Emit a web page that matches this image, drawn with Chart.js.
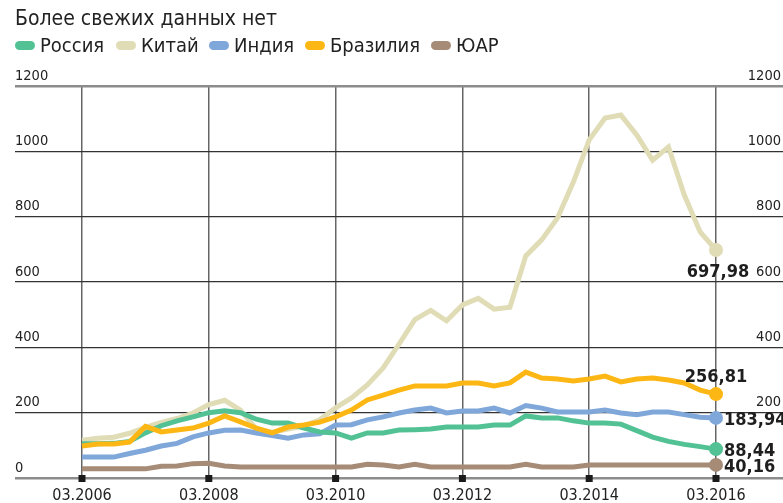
<!DOCTYPE html>
<html>
<head>
<meta charset="utf-8">
<script src="https://cdn.jsdelivr.net/npm/chart.js@4"></script>
<style>
  body { margin: 0; background: #fff; }
  #wrap { position: relative; width: 783px; height: 503px; font-family: 'DejaVu Sans Condensed', 'Liberation Sans Narrow', sans-serif; color: #222; }
  #title { position: absolute; left: 15px; top: 6px; font-size: 21px; white-space: nowrap; }
  .item { position: absolute; top: 33px; font-size: 20px; white-space: nowrap; display: flex; align-items: center; }
  .item span.mark { display: inline-block; width: 20px; height: 9px; border-radius: 5px; margin-right: 5px; }
  canvas { position: absolute; left: 0; top: 0; }
</style>
</head>
<body>
<div id="wrap">
  <canvas id="chart" width="783" height="503"></canvas>
  <div id="title">Более свежих данных нет</div>
  <div id="legend"></div>
</div>
<script>
// quarters, 03.2006 .. 03.2016
const quarters = [
  '03.2006', '06.2006', '09.2006', '12.2006',
  '03.2007', '06.2007', '09.2007', '12.2007',
  '03.2008', '06.2008', '09.2008', '12.2008',
  '03.2009', '06.2009', '09.2009', '12.2009',
  '03.2010', '06.2010', '09.2010', '12.2010',
  '03.2011', '06.2011', '09.2011', '12.2011',
  '03.2012', '06.2012', '09.2012', '12.2012',
  '03.2013', '06.2013', '09.2013', '12.2013',
  '03.2014', '06.2014', '09.2014', '12.2014',
  '03.2015', '06.2015', '09.2015', '12.2015',
  '03.2016'
];
const xTickIdx = [0, 8, 16, 24, 32, 40];
const yTicks = [0, 200, 400, 600, 800, 1000, 1200];

const russia = [105, 105, 106, 112, 138, 160, 175, 187, 200, 206, 200, 180, 168, 168, 153, 141,
  138, 122, 138, 138, 147, 148, 150, 156, 156, 156, 162, 162, 190, 184, 184, 175,
  168, 168, 165, 145, 125, 112, 103, 96, 88.44];
const china = [116, 122, 125, 137, 155, 170, 182, 199, 225, 238, 208, 150, 140, 150, 160, 178,
  215, 245, 285, 337, 410, 485, 513, 481, 530, 550, 517, 523, 680, 729, 796, 906,
  1035, 1102, 1111, 1050, 973, 1013, 866, 753, 697.98];
const india = [64, 64, 64, 75, 85, 98, 106, 126, 138, 146, 147, 138, 130, 122, 132, 135,
  162, 163, 178, 187, 199, 208, 214, 199, 205, 205, 214, 199, 222, 214, 202, 202,
  202, 208, 199, 194, 202, 202, 194, 186, 183.94];
const brazil = [98, 104, 104, 110, 158, 141, 147, 153, 168, 190, 172, 153, 138, 156, 162, 171,
  187, 208, 239, 254, 269, 282, 282, 282, 291, 291, 282, 291, 324, 306, 303, 297,
  303, 312, 294, 303, 306, 300, 291, 269, 256.81];
const sa = [28, 28, 28, 28, 28, 36, 37, 44, 45, 37, 34, 34, 34, 34, 34, 34,
  34, 34, 42, 40, 34, 42, 34, 34, 34, 34, 34, 34, 42, 34, 34, 34,
  40, 40, 40, 40, 40, 40, 40, 40, 40.16];

const seriesNames = ['Россия', 'Китай', 'Индия', 'Бразилия', 'ЮАР'];
const seriesData = [russia, china, india, brazil, sa];
const seriesColors = ['#52c295', '#e0dcb6', '#7fa7da', '#fdb714', '#a68b76'];
const drawOrder = [2, 5, 3, 1, 4];
const labelSpots = ['right', 'below', 'right', 'above', 'right'];
const legendLeft = [15, 116, 209, 305, 431];

// legend
const legend = document.getElementById('legend');
seriesNames.forEach((name, i) => {
  const d = document.createElement('div');
  d.className = 'item';
  d.style.left = legendLeft[i] + 'px';
  d.innerHTML = '<span class="mark" style="background:' + seriesColors[i] + '"></span>' + name;
  legend.appendChild(d);
});

const fontFamily = "'DejaVu Sans Condensed', 'Liberation Sans Narrow', sans-serif";
Chart.defaults.font.family = fontFamily;
Chart.defaults.color = '#222';

// little black squares on the x axis
const tickMarks = {
  id: 'tickMarks',
  afterDraw(chart) {
    const c = chart.ctx;
    const xs = chart.scales.x;
    const y0 = chart.scales.y.getPixelForValue(0);
    c.save();
    c.fillStyle = '#1a1a1a';
    xTickIdx.forEach(v => {
      const px = xs.getPixelForValue(v);
      c.fillRect(px - 3.5, y0 - 3, 7, 7);
    });
    c.restore();
  }
};

// value labels at the last point
const endLabels = {
  id: 'endLabels',
  afterDatasetsDraw(chart) {
    const c = chart.ctx;
    c.save();
    c.font = 'bold 18px ' + fontFamily;
    c.fillStyle = '#1e1e1e';
    chart.data.datasets.forEach((ds, i) => {
      const meta = chart.getDatasetMeta(i);
      const pt = meta.data[meta.data.length - 1];
      const v = ds.data[ds.data.length - 1].y;
      const txt = v.toFixed(2).replace('.', ',');
      const spot = labelSpots[i];
      c.textBaseline = 'middle';
      if (spot === 'right') {
        c.textAlign = 'left';
        c.fillText(txt, pt.x + 8, pt.y + 2);
      } else if (spot === 'below') {
        c.textAlign = 'center';
        c.fillText(txt, pt.x + 2, pt.y + 22);
      } else {
        c.textAlign = 'center';
        c.fillText(txt, pt.x, pt.y - 17);
      }
    });
    c.restore();
  }
};

const datasets = seriesNames.map((name, i) => ({
  label: name,
  data: seriesData[i].map((v, k) => ({ x: k, y: v })),
  borderColor: seriesColors[i],
  backgroundColor: seriesColors[i],
  borderWidth: 5,
  tension: 0,
  order: drawOrder[i],
  clip: false,
  pointRadius: ctx => ctx.dataIndex === quarters.length - 1 ? 7 : 0,
  pointBorderWidth: 0,
  pointHoverRadius: 0
}));

const fitX = scale => { scale.paddingLeft = 0; scale.paddingRight = 0; scale.height = 25; };
const fitY = scale => { scale.paddingTop = 0; scale.paddingBottom = 0; scale.width = 0; };

new Chart(document.getElementById('chart').getContext('2d'), {
  type: 'line',
  data: { datasets: datasets },
  plugins: [tickMarks, endLabels],
  options: {
    responsive: false,
    animation: false,
    devicePixelRatio: 1,
    layout: { autoPadding: false, padding: { top: 86, left: 15, right: 0, bottom: 0 } },
    plugins: { legend: { display: false }, tooltip: { enabled: false } },
    scales: {
      x: {
        type: 'linear',
        min: -4.227,
        max: 44.227,
        afterBuildTicks: scale => { scale.ticks = xTickIdx.map(v => ({ value: v })); },
        afterFit: fitX,
        grid: { color: '#666', lineWidth: 1.5, drawTicks: false },
        border: { display: false },
        ticks: {
          padding: 8,
          font: { size: 16 },
          color: '#222',
          callback: v => quarters[v]
        }
      },
      y: {
        position: 'left',
        min: 0,
        max: 1200,
        afterBuildTicks: scale => { scale.ticks = yTicks.map(v => ({ value: v })); },
        afterFit: fitY,
        grid: {
          drawTicks: false,
          color: ctx => (ctx.tick && (ctx.tick.value === 0 || ctx.tick.value === 1200)) ? '#8c8c8c' : '#333',
          lineWidth: ctx => (ctx.tick && (ctx.tick.value === 0 || ctx.tick.value === 1200)) ? 2.5 : 1.2
        },
        border: { display: false },
        ticks: {
          mirror: true, padding: 0, labelOffset: -10, font: { size: 14.5 }, color: '#222',
          callback: v => String(v)
        }
      },
      y2: {
        position: 'right',
        min: 0,
        max: 1200,
        afterBuildTicks: scale => { scale.ticks = yTicks.map(v => ({ value: v })); },
        afterFit: fitY,
        grid: { display: false, drawTicks: false },
        border: { display: false },
        ticks: {
          mirror: true, padding: -2, labelOffset: -10, font: { size: 14.5 }, color: '#222',
          callback: v => v === 0 ? '' : String(v)
        }
      }
    }
  }
});
</script>
</body>
</html>
